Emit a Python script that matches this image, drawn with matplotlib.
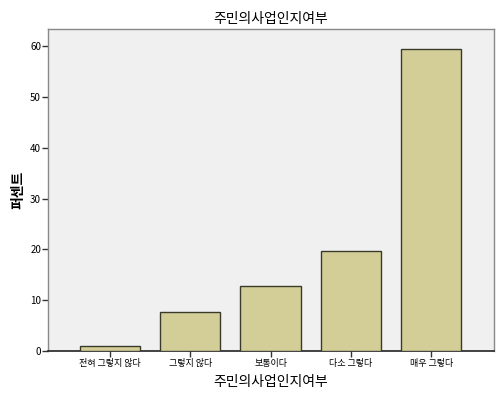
import matplotlib
matplotlib.use("Agg")
import matplotlib.pyplot as plt
import numpy as np

plt.rcParams['font.family'] = ['Noto Sans CJK KR', 'DejaVu Sans']

# data
categories = ["전혀 그렇지 않다", "그렇지 않다", "보통이다", "다소 그렇다", "매우 그렇다"]
percents = [0.9, 7.7, 12.8, 19.6, 59.5]
yticks = [0, 10, 20, 30, 40, 50, 60]

fig = plt.figure(figsize=(5, 4.01), dpi=100)
ax = fig.add_axes([48 / 500, 50 / 401, 446 / 500, 322 / 401])
ax.set_facecolor("#f0f0f0")

x = np.arange(len(categories))
ax.bar(x, percents, width=0.75, color="#d3ce97", edgecolor="#3a3a2a", linewidth=1.0, zorder=3)

ax.set_xlim(-0.77, len(categories) - 1 + 0.78)
ax.set_ylim(0, 63.4)
ax.set_yticks(yticks)
ax.set_xticks(x)
ax.set_xticklabels(categories, fontsize=6.5)
ax.tick_params(axis="y", labelsize=7, length=4, width=1, color="#333333", pad=1)
ax.tick_params(axis="x", length=4, width=1, color="#333333", pad=2)

for side in ["top", "right", "left"]:
    ax.spines[side].set_color("#888888")
    ax.spines[side].set_linewidth(1)
ax.spines["bottom"].set_color("#222222")
ax.spines["bottom"].set_linewidth(1.2)

ax.set_title("주민의사업인지여부", fontsize=10, pad=4)
ax.set_xlabel("주민의사업인지여부", fontsize=10, labelpad=5)
ax.set_ylabel("퍼센트", fontsize=10, fontweight="bold", labelpad=3)

fig.savefig("out.png", dpi=100, facecolor="white")
